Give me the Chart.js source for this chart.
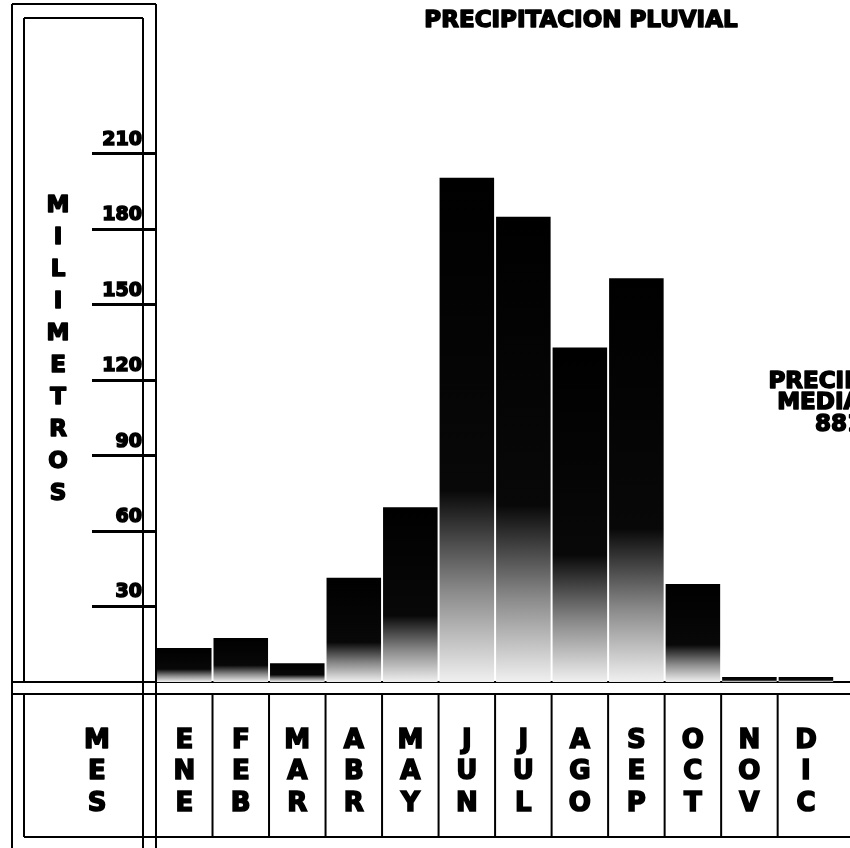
<!DOCTYPE html>
<html>
<head>
<meta charset="utf-8">
<script src="https://cdn.jsdelivr.net/npm/chart.js@4/dist/chart.umd.min.js"></script>
<style>
  html, body { margin: 0; padding: 0; background: #fff; overflow: hidden; }
  #wrap { width: 860px; height: 848px; position: relative; }
</style>
</head>
<body>
<div id="wrap"><canvas id="c" width="860" height="848"></canvas></div>
<script>
// ---- data ----
const months = ['ENE','FEB','MAR','ABR','MAY','JUN','JUL','AGO','SEP','OCT','NOV','DIC'];
const precipitation = [13.5, 17.5, 7.5, 41.5, 69.5, 200.5, 185, 133, 160.5, 39, 2, 2];
const yTicks = [30, 60, 90, 120, 150, 180, 210];
const yMax = 270;
const chartTitle = 'PRECIPITACION PLUVIAL';
const yAxisTitle = 'MILIMETROS';
const xAxisTitle = 'MES';
const noteLines = ['PRECIPITACION', 'MEDIA ANUAL', '881 mm'];

const FONT = "'DejaVu Sans', 'Liberation Sans', sans-serif";
const STROKE = 1.6;

function barGradient(ctx) {
  const chart = ctx.chart;
  if (!chart.chartArea || ctx.type !== 'data') return '#000';
  const y = chart.scales.y;
  const v = ctx.raw;
  const top = y.getPixelForValue(v);
  const bottom = y.getPixelForValue(0);
  if (!isFinite(top) || bottom - top < 1) return '#000';
  const g = chart.ctx.createLinearGradient(0, top, 0, bottom);
  g.addColorStop(0, '#000');
  g.addColorStop(0.62, '#080808');
  g.addColorStop(0.82, '#8a8a8a');
  g.addColorStop(1, '#f0f0f0');
  return g;
}

function boldText(c, t, x, y) {
  c.strokeText(t, x, y);
  c.fillText(t, x, y);
}

const framePlugin = {
  id: 'frame',
  beforeDatasetsDraw(chart) {
    const c = chart.ctx;
    const a = chart.chartArea;
    const x = chart.scales.x;
    const W = 850;
    const left = a.left;          // column edge at chart start
    const colIn = left - 13;      // inner column line
    const outerL = 12, innerL = 24;
    const outerT = 4, innerT = 18;
    const base = a.bottom;
    const base2 = base + 12;
    const bottomLine = 837;
    c.save();
    c.strokeStyle = '#000';
    c.lineWidth = 2;
    c.beginPath();
    // outer box
    c.moveTo(outerL, outerT); c.lineTo(left, outerT);
    c.moveTo(outerL, outerT); c.lineTo(outerL, 848);
    c.moveTo(left, outerT); c.lineTo(left, 848);
    // inner box
    c.moveTo(innerL, innerT); c.lineTo(colIn, innerT);
    c.moveTo(innerL, innerT); c.lineTo(innerL, base);
    c.moveTo(innerL, base2); c.lineTo(innerL, bottomLine);
    c.moveTo(colIn, innerT); c.lineTo(colIn, 848);
    // horizontal band
    c.moveTo(outerL, base); c.lineTo(W, base);
    c.moveTo(outerL, base2); c.lineTo(W, base2);
    c.moveTo(innerL, bottomLine); c.lineTo(W, bottomLine);
    // month cell dividers
    for (let i = 1; i < months.length; i++) {
      const xx = (x.getPixelForValue(i - 1) + x.getPixelForValue(i)) / 2;
      c.moveTo(xx, base2); c.lineTo(xx, bottomLine);
    }
    c.stroke();

    // texts
    c.fillStyle = '#000';
    c.strokeStyle = '#000';
    c.lineWidth = STROKE;
    c.lineJoin = 'round';
    c.textAlign = 'center';
    c.textBaseline = 'middle';
    c.font = 'bold 23px ' + FONT;
    boldText(c, chartTitle, 581, 21);

    c.font = 'bold 23px ' + FONT;
    yAxisTitle.split('').forEach((ch, i) => boldText(c, ch, 58, 206 + i * 32));

    c.font = 'bold 26px ' + FONT;
    xAxisTitle.split('').forEach((ch, i) => boldText(c, ch, 97, 741 + i * 31.5));

    c.font = 'bold 23px ' + FONT;
    noteLines.forEach((t, i) => boldText(c, t, 867, 382 + i * 21.5));
    c.restore();
  }
};

new Chart(document.getElementById('c'), {
  type: 'bar',
  data: {
    labels: months.map(m => m.split('')),
    datasets: [{
      data: precipitation,
      backgroundColor: barGradient,
      borderWidth: 0,
      barPercentage: 1,
      categoryPercentage: 0.965
    }]
  },
  options: {
    responsive: false,
    animation: false,
    devicePixelRatio: 1,
    layout: { padding: { left: 11, right: 7, top: 3, bottom: 0 } },
    plugins: { legend: { display: false }, title: { display: false }, tooltip: { enabled: false } },
    scales: {
      x: {
        type: 'category',
        grid: { display: false, drawTicks: false },
        border: { display: false },
        ticks: {
          autoSkip: false,
          maxRotation: 0,
          minRotation: 0,
          padding: 43,
          color: '#000',
          textStrokeColor: '#000',
          textStrokeWidth: STROKE,
          font: { family: FONT, size: 26, weight: 'bold', lineHeight: '31.5px' }
        },
        afterFit(s) { s.height = 166; }
      },
      y: {
        min: 0,
        max: yMax,
        afterBuildTicks(s) { s.ticks = yTicks.map(v => ({ value: v })); },
        grid: { drawOnChartArea: false, drawTicks: true, tickLength: 64, lineWidth: 3, color: '#000' },
        border: { display: false },
        ticks: {
          padding: -50,
          labelOffset: -14,
          color: '#000',
          textStrokeColor: '#000',
          textStrokeWidth: STROKE,
          font: { family: FONT, size: 19, weight: 'bold' }
        },
        afterFit(s) { s.width = 145; }
      }
    }
  },
  plugins: [framePlugin]
});
</script>
</body>
</html>
